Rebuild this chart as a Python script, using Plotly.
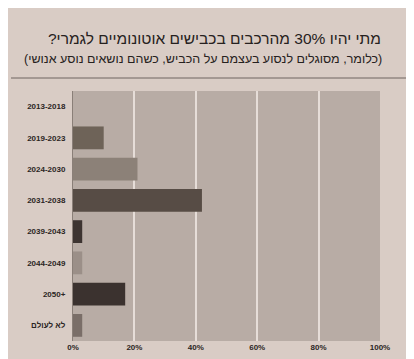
import plotly.graph_objects as go

categories = ["2013-2018", "2019-2023", "2024-2030", "2031-2038",
              "2039-2043", "2044-2049", "\u202a2050+\u202c", "לא לעולם"]
values = [0, 10, 21, 42, 3, 3, 17, 3]
bar_colors = ["#6e6358", "#6e6358", "#8c8178", "#574c45",
              "#3d3431", "#9b8f88", "#3b322f", "#7a6e68"]
tick_vals = [0, 20, 40, 60, 80, 100]
tick_text = ["0%", "20%", "40%", "60%", "80%", "100%"]

title = "\u200fמתי יהיו 30% מהרכבים בכבישים אוטונומיים לגמרי?\u200f"
subtitle = "\u200f(כלומר, מסוגלים לנסוע בעצמם על הכביש, כשהם נושאים נוסע אנושי)\u200f"

fig = go.Figure(go.Bar(
    x=values, y=categories, orientation="h",
    marker=dict(color=bar_colors, line=dict(width=0)),
    hoverinfo="skip",
))

fig.update_layout(
    width=414, height=359,
    margin=dict(l=65, r=42, t=83, b=26),
    paper_bgcolor="#d9ccc5",
    plot_bgcolor="#b8aca5",
    bargap=0.27,
    showlegend=False,
    font=dict(family="Liberation Sans, Arial, sans-serif", color="#2b2523"),
    xaxis=dict(range=[0, 100], tickvals=tick_vals, ticktext=tick_text,
               showgrid=True, gridcolor="#e6ddd8", gridwidth=1.5,
               zeroline=False, showline=False, ticks="",
               tickfont=dict(size=8, family="Liberation Sans, Arial, sans-serif",
                             color="#2b2523", weight="bold"),
               fixedrange=True),
    yaxis=dict(categoryorder="array", categoryarray=categories[::-1],
               showgrid=False, zeroline=False, showline=True,
               linecolor="#8a7f78", linewidth=1, ticks="",
               ticklabelstandoff=5,
               tickfont=dict(size=8, family="Liberation Sans, Arial, sans-serif",
                             color="#2b2523", weight="bold"),
               fixedrange=True),
)

fig.add_annotation(text=title, xref="paper", yref="paper",
                   x=(206 - 65) / 307, y=(359 - 26 - 30) / 250,
                   showarrow=False, xanchor="center", yanchor="middle",
                   font=dict(size=15.5, color="#262120",
                             family="Liberation Sans, Arial, sans-serif"))
fig.add_annotation(text=subtitle, xref="paper", yref="paper",
                   x=(195 - 65) / 307, y=(359 - 26 - 51) / 250,
                   showarrow=False, xanchor="center", yanchor="middle",
                   font=dict(size=12.5, color="#262120",
                             family="Liberation Sans, Arial, sans-serif"))
fig.add_shape(type="line", xref="paper", yref="paper",
              x0=-62 / 307, x1=(410 - 65) / 307,
              y0=(359 - 26 - 70) / 250, y1=(359 - 26 - 70) / 250,
              line=dict(color="#6f6560", width=1))

fig.write_html("out.html")
